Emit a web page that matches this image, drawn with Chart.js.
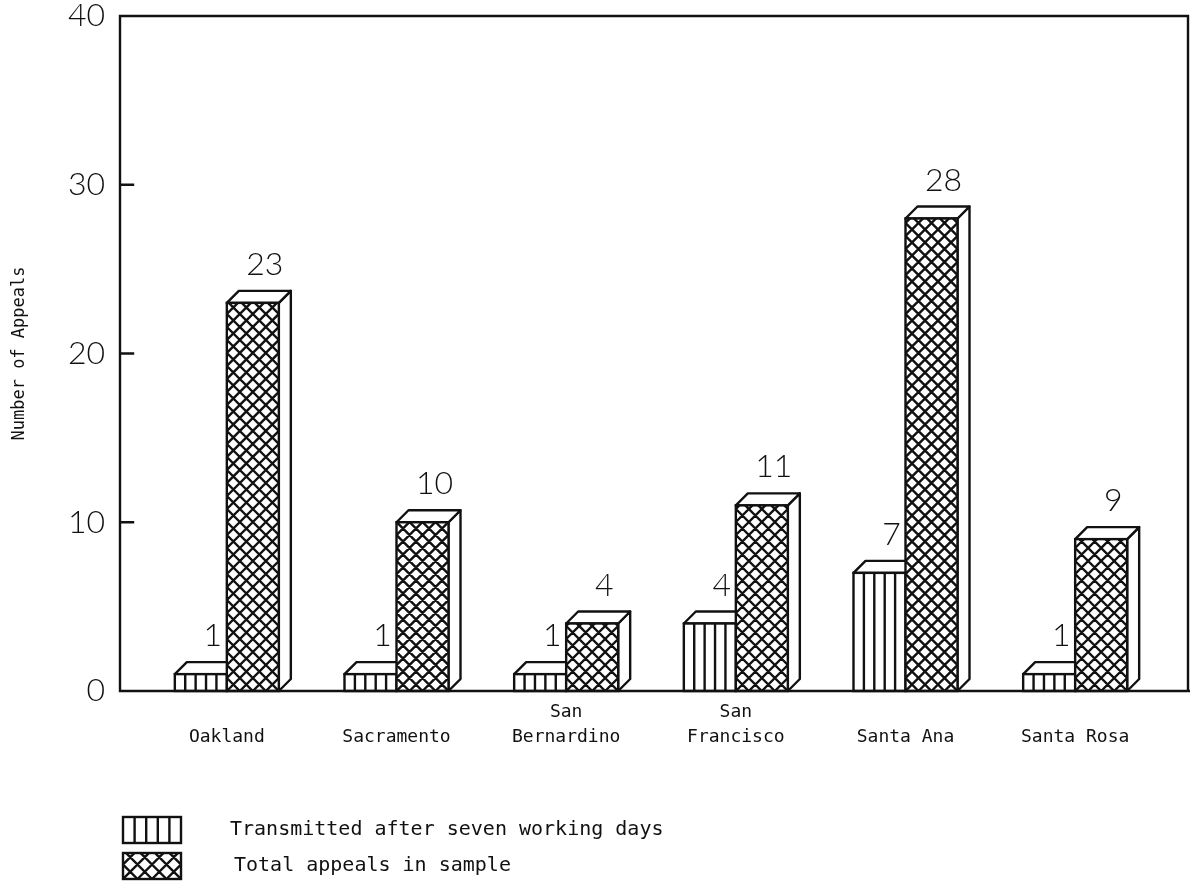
<!DOCTYPE html>
<html>
<head>
<meta charset="utf-8">
<title>Number of Appeals by Office</title>
<script src="https://cdn.jsdelivr.net/npm/chart.js@4.4.1/dist/chart.umd.min.js"></script>
<style>
  html, body { margin: 0; padding: 0; background: #ffffff; }
  #wrap { width: 1190px; height: 884px; }
</style>
</head>
<body>
<div id="wrap"><canvas id="chart" width="1190" height="884"></canvas></div>
<script>
// Offices and appeal counts
const categories = ['Oakland', 'Sacramento', ['San', 'Bernardino'], ['San', 'Francisco'], 'Santa Ana', 'Santa Rosa'];
const transmitted = [1, 1, 1, 4, 7, 1];
const totalAppeals = [23, 10, 4, 11, 28, 9];
const yTicks = [0, 10, 20, 30, 40];
const seriesNames = ['Transmitted after seven working days', 'Total appeals in sample'];
const yTitle = 'Number of Appeals';

const INK = '#111111';
const MONO = '"DejaVu Sans Mono", "Liberation Mono", monospace';
const PLOT = 'Lato, "Open Sans", sans-serif';
const DEPTH = 12;        // 3D offset of bar top and side faces
const LINE = 2.4;        // outline width

// Hatch fill: vertical stripes (5 cells across) or diagonal cross-hatch
function hatch(ctx, kind, x, y, w, h) {
  ctx.save();
  ctx.beginPath();
  ctx.rect(x, y, w, h);
  ctx.clip();
  ctx.fillStyle = '#ffffff';
  ctx.fillRect(x, y, w, h);
  ctx.strokeStyle = INK;
  ctx.lineWidth = LINE;
  ctx.beginPath();
  if (kind === 'stripes') {
    const step = w / 5;
    for (let i = 1; i < 5; i++) {
      const lx = x + i * step;
      ctx.moveTo(lx, y);
      ctx.lineTo(lx, y + h);
    }
  } else {
    const step = w / 4;
    const yb = y + h;
    const span = h + step;
    const kMin = -Math.ceil(span / step) - 1;
    const kMax = Math.ceil((w + span) / step) + 1;
    for (let k = kMin; k <= kMax; k++) {
      const x0 = x + k * step;
      // rising to the right
      ctx.moveTo(x0, yb);
      ctx.lineTo(x0 + span, yb - span);
      // falling to the right
      ctx.moveTo(x0, yb);
      ctx.lineTo(x0 - span, yb - span);
    }
  }
  ctx.stroke();
  ctx.restore();
  ctx.save();
  ctx.strokeStyle = INK;
  ctx.lineWidth = LINE;
  ctx.strokeRect(x, y, w, h);
  ctx.restore();
}

// Top and side faces of a bar, giving it depth
function faces(ctx, xl, xr, yt, yb) {
  const d = DEPTH;
  ctx.save();
  ctx.fillStyle = '#ffffff';
  ctx.strokeStyle = INK;
  ctx.lineWidth = LINE;
  ctx.lineJoin = 'round';
  ctx.beginPath();
  ctx.moveTo(xr, yt);
  ctx.lineTo(xr + d, yt - d);
  ctx.lineTo(xr + d, yb - d);
  ctx.lineTo(xr, yb);
  ctx.closePath();
  ctx.fill();
  ctx.stroke();
  ctx.beginPath();
  ctx.moveTo(xl, yt);
  ctx.lineTo(xl + d, yt - d);
  ctx.lineTo(xr + d, yt - d);
  ctx.lineTo(xr, yt);
  ctx.closePath();
  ctx.fill();
  ctx.stroke();
  ctx.restore();
}

const bars3d = {
  id: 'bars3d',
  afterDatasetsDraw(chart) {
    const ctx = chart.ctx;
    const metas = [chart.getDatasetMeta(0), chart.getDatasetMeta(1)];
    const kinds = ['stripes', 'cross'];
    for (let i = 0; i < categories.length; i++) {
      metas.forEach((meta, di) => {
        const bar = meta.data[i];
        const p = bar.getProps(['x', 'y', 'base', 'width'], true);
        const xl = p.x - p.width / 2, xr = p.x + p.width / 2;
        faces(ctx, xl, xr, p.y, p.base);
        hatch(ctx, kinds[di], xl, p.y, p.width, p.base - p.y);
      });
    }
    // value labels above each bar's top face
    ctx.save();
    ctx.fillStyle = INK;
    ctx.font = '300 32px ' + PLOT;
    ctx.textAlign = 'center';
    ctx.textBaseline = 'alphabetic';
    metas.forEach((meta, di) => {
      const values = chart.data.datasets[di].data;
      meta.data.forEach((bar, i) => {
        const p = bar.getProps(['x', 'y'], true);
        ctx.fillText(String(values[i]), p.x + DEPTH, p.y - DEPTH - 16);
      });
    });
    ctx.restore();
  },
  afterDraw(chart) {
    const ctx = chart.ctx;
    const a = chart.chartArea;
    const ys = chart.scales.y;
    const left = a.left - 22, right = a.right + 28;
    ctx.save();
    ctx.strokeStyle = INK;
    ctx.lineWidth = LINE;
    ctx.lineCap = 'square';
    ctx.beginPath();
    ctx.moveTo(left, a.bottom);
    ctx.lineTo(left, a.top);
    ctx.lineTo(right, a.top);
    ctx.lineTo(right, a.bottom);
    ctx.moveTo(left, a.bottom);
    ctx.lineTo(chart.width, a.bottom);
    // short inward tick marks on the value axis
    yTicks.slice(1, -1).forEach(v => {
      const ty = ys.getPixelForValue(v);
      ctx.moveTo(left, ty);
      ctx.lineTo(left + 13, ty);
    });
    ctx.stroke();
    ctx.restore();

    // legend
    const kinds = ['stripes', 'cross'];
    const rows = [830, 866];
    ctx.save();
    chart.data.datasets.forEach((ds, di) => {
      const cy = rows[di];
      hatch(ctx, kinds[di], 123, cy - 13, 58, 26);
      ctx.fillStyle = INK;
      ctx.font = '20px ' + MONO;
      ctx.textAlign = 'left';
      ctx.textBaseline = 'middle';
      ctx.fillText(ds.label, 230 + di * 4, cy);
    });
    ctx.restore();
  }
};

new Chart(document.getElementById('chart'), {
  type: 'bar',
  data: {
    labels: categories,
    datasets: [
      { label: seriesNames[0], data: transmitted, backgroundColor: '#ffffff', borderWidth: 0 },
      { label: seriesNames[1], data: totalAppeals, backgroundColor: '#ffffff', borderWidth: 0 }
    ]
  },
  options: {
    responsive: false,
    animation: false,
    devicePixelRatio: 1,
    layout: { padding: { top: 16, right: 30, left: 0, bottom: 0 } },
    datasets: { bar: { categoryPercentage: 0.613, barPercentage: 1.0 } },
    plugins: { legend: { display: false }, tooltip: { enabled: false } },
    scales: {
      x: {
        grid: { display: false, drawTicks: false },
        border: { display: false },
        ticks: {
          color: INK,
          font: { family: MONO, size: 18, lineHeight: 1.4 },
          crossAlign: 'far',
          padding: 21,
          maxRotation: 0,
          autoSkip: false
        },
        afterFit(scale) {
          scale.height = 193;
          scale.paddingLeft = 0;
          scale.paddingRight = 0;
        }
      },
      y: {
        min: yTicks[0],
        max: yTicks[yTicks.length - 1],
        afterBuildTicks(scale) { scale.ticks = yTicks.map(v => ({ value: v })); },
        grid: { display: false, drawTicks: false },
        border: { display: false },
        ticks: {
          color: INK,
          font: { family: PLOT, size: 32, weight: '300' },
          padding: 37
        },
        title: {
          display: true,
          text: yTitle,
          color: INK,
          font: { family: MONO, size: 17 },
          padding: { top: 9, bottom: 0 }
        },
        afterFit(scale) {
          scale.width = 142;
          scale.paddingTop = 0;
          scale.paddingBottom = 0;
        }
      }
    }
  },
  plugins: [bars3d]
});
</script>
</body>
</html>
